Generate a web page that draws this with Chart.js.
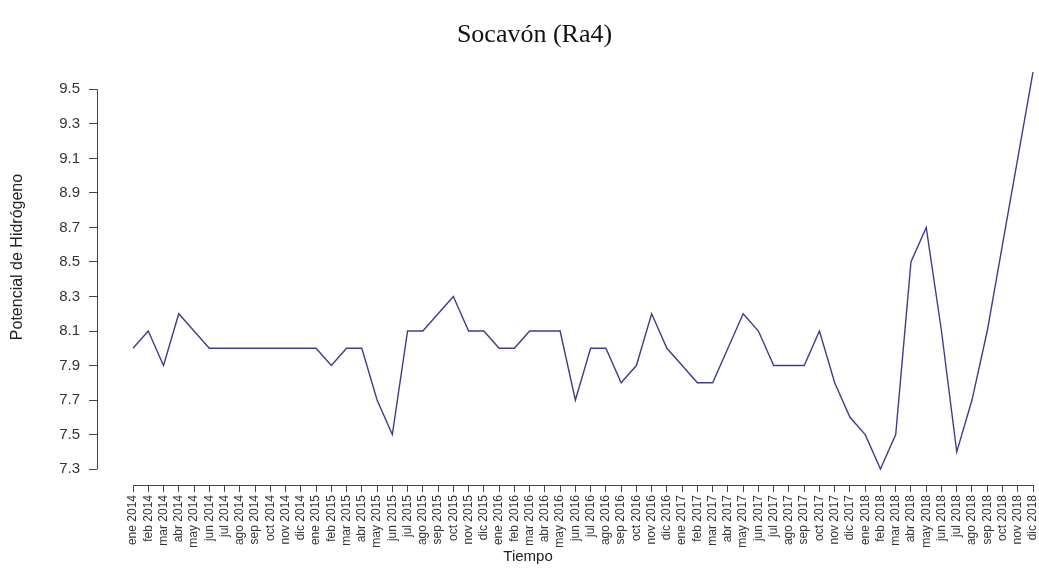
<!DOCTYPE html>
<html>
<head>
<meta charset="utf-8">
<script src="https://cdn.jsdelivr.net/npm/chart.js@4/dist/chart.umd.min.js"></script>
<style>
  html, body { margin: 0; padding: 0; background: #fff; overflow: hidden; }
  #wrap { width: 1166px; height: 569px; }
</style>
</head>
<body>
<div id="wrap"><canvas id="ph_chart" width="1166" height="569"></canvas></div>
<script>
const years = [2014, 2015, 2016, 2017, 2018];
const monthNames = ["ene", "feb", "mar", "abr", "may", "jun", "jul", "ago", "sep", "oct", "nov", "dic"];
const months = years.flatMap(y => monthNames.map(m => m + " " + y));

const phValues = [
  8.0, 8.1, 7.9, 8.2, 8.1, 8.0, 8.0, 8.0, 8.0, 8.0, 8.0, 8.0,
  8.0, 7.9, 8.0, 8.0, 7.7, 7.5, 8.1, 8.1, 8.2, 8.3, 8.1, 8.1,
  8.0, 8.0, 8.1, 8.1, 8.1, 7.7, 8.0, 8.0, 7.8, 7.9, 8.2, 8.0,
  7.9, 7.8, 7.8, 8.0, 8.2, 8.1, 7.9, 7.9, 7.9, 8.1, 7.8, 7.6,
  7.5, 7.3, 7.5, 8.5, 8.7, 8.1, 7.4, 7.7, 8.1, 8.6, 9.1, 9.6
];

const yTicks = [7.3, 7.5, 7.7, 7.9, 8.1, 8.3, 8.5, 8.7, 8.9, 9.1, 9.3, 9.5];

// R-like limits: data range widened by 4% on each side
const xPad = (months.length - 1) * 0.04;
const yMinData = Math.min(...phValues), yMaxData = Math.max(...phValues);
const yPad = (yMaxData - yMinData) * 0.04;

// axis lines only span first..last tick, plus the two axis titles
const rAxes = {
  id: "rAxes",
  afterDraw(chart) {
    const { ctx, chartArea, scales: { x, y } } = chart;
    ctx.save();
    ctx.strokeStyle = "#444";
    ctx.lineWidth = 1;
    ctx.beginPath();
    const xl = Math.round(chartArea.left) + 0.5;
    ctx.moveTo(xl, y.getPixelForValue(yTicks[0]));
    ctx.lineTo(xl, y.getPixelForValue(yTicks[yTicks.length - 1]));
    const yb = Math.round(chartArea.bottom) + 0.5;
    ctx.moveTo(x.getPixelForValue(0), yb);
    ctx.lineTo(x.getPixelForValue(months.length - 1), yb);
    ctx.stroke();

    ctx.fillStyle = "#222";
    ctx.textAlign = "center";
    ctx.textBaseline = "middle";
    ctx.font = '15px "Liberation Sans", Arial, sans-serif';
    ctx.fillText("Tiempo", 528, 557);
    ctx.font = '16px "Liberation Sans", Arial, sans-serif';
    ctx.translate(18, 257);
    ctx.rotate(-Math.PI / 2);
    ctx.fillText("Potencial de Hidrógeno", 0, 0);
    ctx.restore();
  }
};

const ctx = document.getElementById("ph_chart").getContext("2d");

new Chart(ctx, {
  type: "line",
  data: {
    datasets: [
      {
        label: "pH",
        data: phValues.map((v, i) => ({ x: i, y: v })),
        borderColor: "#3d3d8e",
        borderWidth: 1.4,
        pointRadius: 0,
        tension: 0,
        fill: false,
      },
    ],
  },
  options: {
    responsive: false,
    animation: false,
    devicePixelRatio: 1,
    layout: { padding: { left: 0, right: 97, top: 0, bottom: 0 } },
    plugins: {
      legend: { display: false },
      tooltip: { enabled: false },
      title: {
        display: true,
        text: "Socavón (Ra4)",
        color: "#111",
        font: { family: '"Liberation Serif", "Times New Roman", serif', size: 26, weight: "normal" },
        padding: { top: 20, bottom: 5 },
      },
    },
    scales: {
      x: {
        type: "linear",
        min: -xPad,
        max: months.length - 1 + xPad,
        border: { display: false },
        grid: { display: true, drawOnChartArea: false, drawTicks: true, tickLength: 7, color: "#444" },
        afterBuildTicks: (scale) => {
          scale.ticks = months.map((_, i) => ({ value: i }));
        },
        afterFit: (scale) => { scale.height = 84; },
        ticks: {
          autoSkip: false,
          maxRotation: 90,
          minRotation: 90,
          padding: 3,
          color: "#333",
          font: { family: '"Liberation Sans", Arial, sans-serif', size: 12 },
          callback: (value) => months[value],
        },
      },
      y: {
        type: "linear",
        min: yMinData - yPad,
        max: yMaxData + yPad,
        border: { display: false },
        grid: { display: true, drawOnChartArea: false, drawTicks: true, tickLength: 8, color: "#444" },
        afterBuildTicks: (scale) => {
          scale.ticks = yTicks.map(v => ({ value: v }));
        },
        afterFit: (scale) => { scale.width = 97; },
        ticks: {
          padding: 9,
          color: "#333",
          font: { family: '"Liberation Sans", Arial, sans-serif', size: 15 },
          callback: (value) => value.toFixed(1),
        },
      },
    },
  },
  plugins: [rAxes],
});
</script>
</body>
</html>
